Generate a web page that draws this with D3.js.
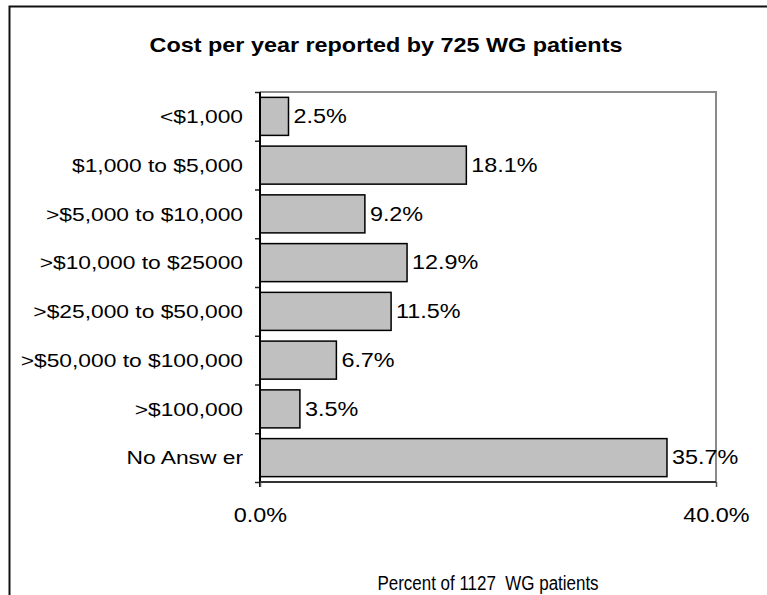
<!DOCTYPE html>
<html>
<head>
<meta charset="utf-8">
<script src="https://cdn.jsdelivr.net/npm/d3@7"></script>
<style>
  body { margin: 0; background: #fff; }
  text { font-family: "Liberation Sans", Arial, sans-serif; fill: #000; white-space: pre; }
</style>
</head>
<body>
<svg></svg>
<script>
/* data */
var categories = ["<$1,000", "$1,000 to $5,000", ">$5,000 to $10,000", ">$10,000 to $25000",
                  ">$25,000 to $50,000", ">$50,000 to $100,000", ">$100,000", "No Answ er"];
var percents = [2.5, 18.1, 9.2, 12.9, 11.5, 6.7, 3.5, 35.7];
var xTicks = [0, 40];
var title = "Cost per year reported by 725 WG patients";
var xTitle = "Percent of 1127  WG patients";

/* svg setting */
var svgWidth = 767;
var svgHeight = 595;
var margin = {top: 92, right: 51, bottom: 113, left: 260};
var width = svgWidth - margin.left - margin.right;
var height = svgHeight - margin.top - margin.bottom;
var stretch = 1.2;   // labels in the source are drawn a bit wide
var squeeze = 0.87;  // ...and the axis title a bit narrow
var scale = {};

var svg = d3.select("svg")
    .attr('width', svgWidth)
    .attr('height', svgHeight);

// outer frame (runs off right / bottom edge)
svg.append('rect')
    .attr('x', 9.5).attr('y', 6.5)
    .attr('width', 900).attr('height', 800)
    .attr('fill', 'none')
    .attr('stroke', '#111')
    .attr('stroke-width', 2);

var g = svg.append('g')
    .attr('transform', translate(margin.left, margin.top));

setScale();
drawFrame();
drawBars();
drawAxis();
drawText();

function setScale(){
  scale.x = d3.scaleLinear()
      .domain([0, 40])
      .range([0, width]);

  scale.y = d3.scaleBand()
      .domain(categories)
      .range([0, height])
      .paddingInner(0.22)
      .paddingOuter(0.11);

  // category boundaries for the tick marks
  scale.yb = d3.scaleLinear()
      .domain([0, categories.length])
      .range([0, height]);
}

function drawFrame(){
  g.append('path')
      .attr('d', 'M0,0H' + width + 'V' + height)
      .attr('fill', 'none')
      .attr('stroke', '#8a8a8a')
      .attr('stroke-width', 2);
}

function drawBars(){
  g.selectAll('rect.bar')
      .data(percents)
      .enter()
      .append('rect')
      .attr('class', 'bar')
      .attr('x', scale.x(0))
      .attr('y', function(d, i){ return scale.y(categories[i]); })
      .attr('width', function(d){ return scale.x(d) - scale.x(0); })
      .attr('height', scale.y.bandwidth())
      .attr('fill', '#c0c0c0')
      .attr('stroke', '#000')
      .attr('stroke-width', 1.5);

  g.selectAll('text.val')
      .data(percents)
      .enter()
      .append('text')
      .attr('class', 'val')
      .attr('transform', function(d, i){
        return translate(scale.x(d) + 5, scale.y(categories[i]) + scale.y.bandwidth() / 2) +
               ' scale(' + stretch + ',1)';
      })
      .attr('dy', '0.35em')
      .style('font-size', '19.5px')
      .text(function(d){ return d.toFixed(1) + '%'; });
}

function drawAxis(){
  var yAxis = g.append('g')
      .attr('class', 'y_axis')
      .call(d3.axisLeft(scale.yb).tickValues(d3.range(categories.length + 1))
            .tickSize(5).tickFormat(''));
  yAxis.select('.domain').remove();
  yAxis.selectAll('line').attr('stroke', '#222').attr('stroke-width', 1.5);
  g.append('line')
      .attr('x1', 0).attr('x2', 0)
      .attr('y1', 0).attr('y2', height + 5)
      .attr('stroke', '#000').attr('stroke-width', 2);

  var xAxis = g.append('g')
      .attr('class', 'x_axis')
      .attr('transform', translate(0, height))
      .call(d3.axisBottom(scale.x).tickValues(xTicks).tickSize(5).tickPadding(21)
            .tickFormat(function(d){ return d.toFixed(1) + '%'; }));
  xAxis.select('.domain').remove();
  xAxis.selectAll('line').attr('stroke', '#555').attr('stroke-width', 1.5);
  xAxis.selectAll('text')
      .style('font-size', '19.5px')
      .attr('fill', '#000')
      .attr('transform', 'scale(' + stretch + ',1)');
  g.append('line')
      .attr('x1', 0).attr('x2', width)
      .attr('y1', height).attr('y2', height)
      .attr('stroke', '#333').attr('stroke-width', 2);
}

function drawText(){
  g.selectAll('text.cat')
      .data(categories)
      .enter()
      .append('text')
      .attr('class', 'cat')
      .attr('transform', function(d){
        return translate(-17, scale.y(d) + scale.y.bandwidth() / 2) + ' scale(' + stretch + ',1)';
      })
      .attr('dy', '0.35em')
      .attr('text-anchor', 'end')
      .style('font-size', '19px')
      .text(function(d){ return d; });

  svg.append('text')
      .attr('transform', translate(386, 52) + ' scale(' + stretch + ',1)')
      .attr('text-anchor', 'middle')
      .style('font-size', '19.5px')
      .style('font-weight', 'bold')
      .text(title);

  svg.append('text')
      .attr('transform', translate(488, 590) + ' scale(' + squeeze + ',1)')
      .attr('text-anchor', 'middle')
      .style('font-size', '19.5px')
      .text(xTitle);
}

function translate(x, y) {
    return 'translate(' + x + ',' + y + ')';
}
</script>
</body>
</html>
